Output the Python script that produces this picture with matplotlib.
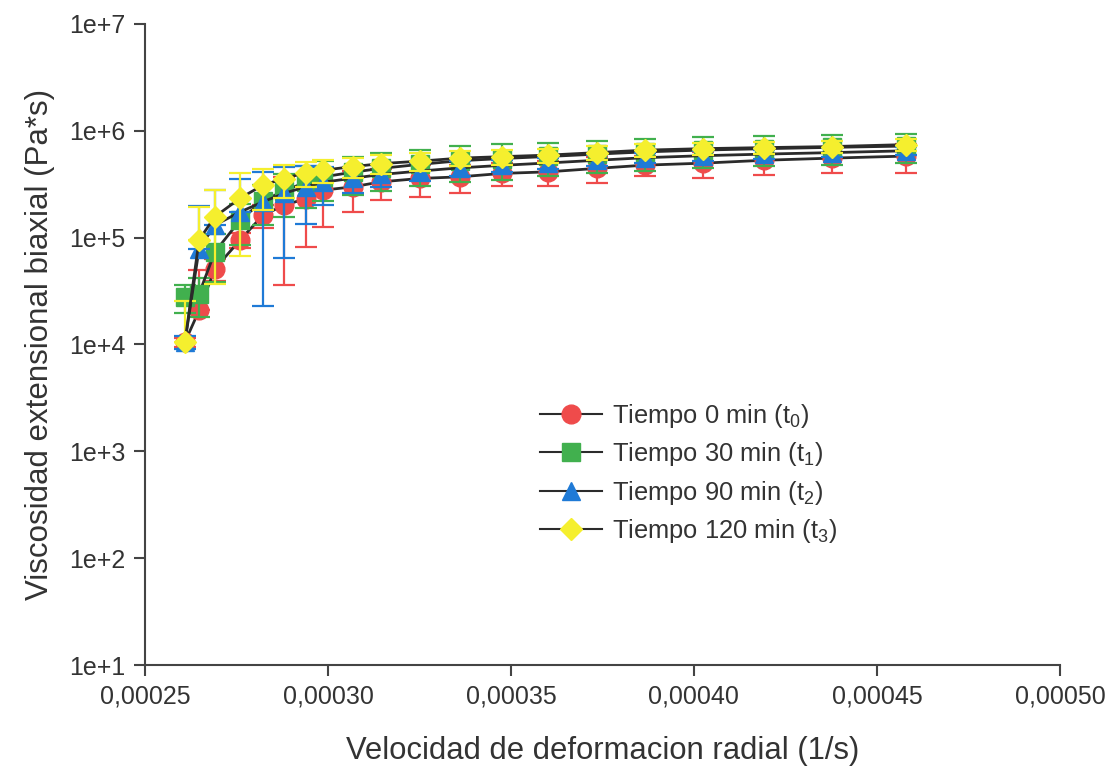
import numpy as np
import matplotlib
matplotlib.use("Agg")
import matplotlib.pyplot as plt
from matplotlib.ticker import FixedLocator, FuncFormatter, NullLocator

plt.rcParams['font.family'] = ['Liberation Sans', 'DejaVu Sans']
plt.rcParams['mathtext.fontset'] = 'custom'
plt.rcParams['mathtext.rm'] = 'Liberation Sans'
plt.rcParams['mathtext.it'] = 'Liberation Sans'

# Velocidad de deformacion radial (1/s)
x_vals = [0.0002609, 0.0002648, 0.0002691, 0.0002760, 0.0002822, 0.0002880,
          0.0002940, 0.0002986, 0.0003068, 0.0003145, 0.0003251, 0.0003361,
          0.0003475, 0.0003601, 0.0003735, 0.0003866, 0.0004025, 0.0004191,
          0.0004377, 0.0004579]

# Viscosidad (Pa*s) y desviacion
t0_y = [1.05e4, 2.09e4, 5.13e4, 9.5e4, 1.62e5, 2.01e5, 2.32e5, 2.78e5, 2.99e5, 3.33e5,
        3.58e5, 3.71e5, 3.99e5, 4.13e5, 4.45e5, 4.77e5, 4.98e5, 5.3e5, 5.55e5, 5.8e5]
t0_err = [1.0e3, 2.9e4, 1.2e4, 1.5e4, 4.0e4, 1.65e5, 1.5e5, 1.53e5, 1.25e5, 1.1e5,
          1.2e5, 1.1e5, 0.96e5, 1.1e5, 1.2e5, 1.0e5, 1.35e5, 1.45e5, 1.5e5, 1.8e5]

t1_y = [2.78e4, 3.0e4, 7.35e4, 1.46e5, 2.2e5, 2.75e5, 3.3e5, 3.7e5, 4.1e5, 4.45e5,
        4.85e5, 5.25e5, 5.5e5, 5.75e5, 6.05e5, 6.35e5, 6.6e5, 6.8e5, 7.0e5, 7.2e5]
t1_err = [8e3, 1.2e4, 3.5e4, 6e4, 9e4, 1.2e5, 1.4e5, 1.5e5, 1.6e5, 1.7e5,
          1.8e5, 1.9e5, 2.0e5, 2.0e5, 2.0e5, 2.1e5, 2.1e5, 2.1e5, 2.2e5, 2.2e5]

t2_y = [1.05e4, 7.9e4, 1.31e5, 1.74e5, 2.16e5, 2.6e5, 3.0e5, 3.3e5, 3.6e5, 3.9e5,
        4.2e5, 4.5e5, 4.75e5, 5.0e5, 5.3e5, 5.6e5, 5.85e5, 6.05e5, 6.25e5, 6.5e5]
t2_err = [1.5e3, 1.2e5, 1.5e5, 1.8e5, 1.93e5, 1.95e5, 1.66e5, 1.3e5, 1.0e5, 0.9e5,
          0.8e5, 0.7e5, 0.6e5, 0.6e5, 0.6e5, 0.6e5, 0.6e5, 0.6e5, 0.6e5, 0.6e5]

t3_y = [1.05e4, 9.55e4, 1.57e5, 2.34e5, 3.10e5, 3.57e5, 4.06e5, 4.28e5, 4.62e5, 4.93e5,
        5.20e5, 5.55e5, 5.73e5, 5.92e5, 6.25e5, 6.59e5, 6.81e5, 6.96e5, 7.12e5, 7.43e5]
t3_err = [1.5e4, 1.0e5, 1.2e5, 1.66e5, 1.3e5, 1.2e5, 1.1e5, 1.0e5, 1.0e5, 1.0e5,
          1.0e5, 0.9e5, 0.9e5, 0.9e5, 0.9e5, 0.9e5, 0.9e5, 0.9e5, 0.9e5, 0.9e5]

labels = ['Tiempo 0 min (t$_0$)', 'Tiempo 30 min (t$_1$)',
          'Tiempo 90 min (t$_2$)', 'Tiempo 120 min (t$_3$)']
x_ticks = [0.00025, 0.00030, 0.00035, 0.00040, 0.00045, 0.00050]
y_ticks = [1e1, 1e2, 1e3, 1e4, 1e5, 1e6, 1e7]


def main():
    fig = plt.figure(figsize=(11.11, 7.73), dpi=100)
    ax = fig.add_axes([0.1305, 0.1397, 0.8235, 0.8293])

    series = [
        (t0_y, t0_err, 'o', '#ef4b4b', 13.5),
        (t1_y, t1_err, 's', '#41b04e', 12.5),
        (t2_y, t2_err, '^', '#1f7ad6', 13.5),
        (t3_y, t3_err, 'D', '#f5ef2e', 11.5),
    ]

    handles = []
    for k, (yv, err, mk, col, ms) in enumerate(series):
        yv = np.array(yv)
        err = np.array(err)
        # the lower bar is not drawn when it would fall below zero
        lower = np.where(err < yv, err, 0.0)
        ax.errorbar(x_vals, yv, yerr=[lower, err], fmt='none', ecolor=col,
                    elinewidth=1.6, capsize=8, capthick=1.6, zorder=2 + 3 * k)
        ax.plot(x_vals, yv, '-', color='#2b2b2b', lw=2.0, zorder=3 + 3 * k)
        ax.plot(x_vals, yv, mk, color=col, ms=ms, mec=col, zorder=4 + 3 * k)
        h, = ax.plot([], [], '-', color='#2b2b2b', lw=1.5, marker=mk, ms=ms,
                     mfc=col, mec=col)
        handles.append(h)

    ax.set_yscale('log')
    ax.set_xlim(0.00025, 0.00050)
    ax.set_ylim(1e1, 1e7)
    ax.xaxis.set_major_locator(FixedLocator(x_ticks))
    ax.xaxis.set_major_formatter(FuncFormatter(lambda v, p: f"{v:.5f}".replace('.', ',')))
    ax.yaxis.set_major_locator(FixedLocator(y_ticks))
    ax.yaxis.set_minor_locator(NullLocator())
    ax.yaxis.set_major_formatter(FuncFormatter(lambda v, p: f"1e+{int(round(np.log10(v)))}"))

    for side in ['top', 'right']:
        ax.spines[side].set_visible(False)
    for side in ['left', 'bottom']:
        ax.spines[side].set_color('#444444')
        ax.spines[side].set_linewidth(1.5)
    ax.tick_params(direction='out', length=8, width=1.5, color='#444444',
                   labelsize=18, labelcolor='#333333', pad=6)

    ax.set_xlabel('Velocidad de deformacion radial (1/s)', fontsize=22.3,
                  color='#333333', labelpad=20)
    ax.set_ylabel('Viscosidad extensional biaxial (Pa*s)', fontsize=22.5,
                  color='#333333', labelpad=10)

    ax.legend(handles, labels, loc='upper left', bbox_to_anchor=(0.407, 0.446),
              frameon=False, fontsize=18.4, handlelength=2.4, labelspacing=0.4,
              handletextpad=0.4, labelcolor='#333333')

    fig.savefig('out.png', dpi=100)


if __name__ == "__main__":
    main()
